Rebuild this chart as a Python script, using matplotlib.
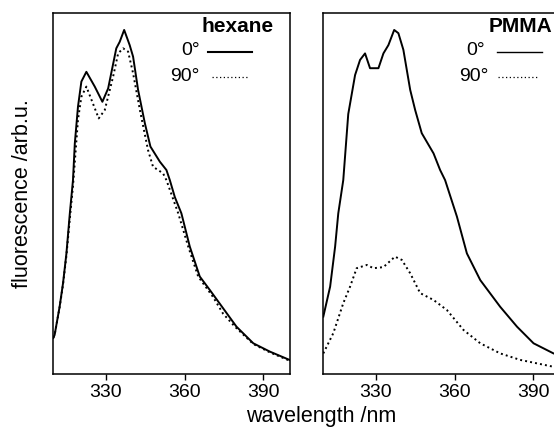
import numpy as np
from matplotlib import pyplot as plt

plt.rcParams['font.family'] = ['Liberation Sans', 'DejaVu Sans']

# hexane, 0 deg (solid)
hex_wl_0 = [310.0, 310.5, 312.4, 313.7, 315.0, 316.3, 317.5, 318.2, 319.4, 320.7,
            322.6, 325.8, 328.7, 330.9, 334.0, 335.3, 337.0, 339.1, 340.4, 342.3,
            344.9, 347.0, 350.6, 353.1, 354.4, 356.3, 358.8, 362.0, 365.8, 369.6,
            374.7, 379.8, 386.2, 392.5, 400.0]
hex_fl_0 = [0.100, 0.108, 0.186, 0.251, 0.334, 0.445, 0.537, 0.639, 0.740, 0.810,
            0.837, 0.796, 0.754, 0.791, 0.902, 0.920, 0.953, 0.911, 0.879, 0.787,
            0.694, 0.630, 0.588, 0.565, 0.537, 0.490, 0.445, 0.353, 0.270, 0.233,
            0.182, 0.131, 0.085, 0.062, 0.039]

# hexane, 90 deg (dotted)
hex_wl_90 = [310.0, 310.5, 312.4, 313.7, 315.0, 316.3, 317.5, 319.4, 320.7, 322.6,
             327.3, 329.6, 332.8, 334.7, 336.6, 338.5, 340.4, 343.0, 346.1, 348.0,
             351.8, 353.1, 357.6, 361.4, 365.2, 370.9, 374.7, 379.2, 386.2, 392.5,
             400.0]
hex_fl_90 = [0.100, 0.108, 0.184, 0.247, 0.328, 0.430, 0.520, 0.704, 0.768, 0.796,
             0.708, 0.731, 0.824, 0.888, 0.902, 0.893, 0.833, 0.731, 0.620, 0.574,
             0.556, 0.537, 0.445, 0.353, 0.270, 0.213, 0.167, 0.131, 0.083, 0.060,
             0.037]

# PMMA, 0 deg (solid)
pm_wl_0 = [310.0, 312.6, 314.5, 315.7, 317.6, 319.5, 322.1, 324.0, 325.9,
           327.8, 331.0, 332.9, 334.8, 337.0, 338.6, 340.5, 343.1, 345.0, 347.5,
           352.0, 354.5, 356.4, 360.9, 364.7, 369.8, 377.4, 383.8, 390.1, 397.7,
           400.0]
pm_fl_0 = [0.159, 0.242, 0.353, 0.445, 0.537, 0.720, 0.828, 0.870, 0.888,
           0.847, 0.847, 0.888, 0.911, 0.953, 0.944, 0.898, 0.787, 0.731, 0.667,
           0.611, 0.565, 0.537, 0.436, 0.334, 0.260, 0.186, 0.131, 0.085, 0.057,
           0.052]

# PMMA, 90 deg (dotted)
pm_wl_90 = [310.0, 313.8, 317.6, 320.2, 322.7, 326.6, 329.1, 332.9, 337.3, 339.9,
            343.1, 346.9, 352.0, 357.1, 363.4, 369.8, 377.4, 385.0, 397.7, 400.0]
pm_fl_90 = [0.057, 0.113, 0.196, 0.242, 0.293, 0.302, 0.293, 0.296, 0.325, 0.316,
            0.279, 0.224, 0.205, 0.177, 0.122, 0.085, 0.057, 0.039, 0.020, 0.018]

xticks = [330, 360, 390]
dotted = (0, (1, 1.6))

fig = plt.figure(figsize=(5.54, 4.28), dpi=100)
ax1 = fig.add_axes([0.0962, 0.1262, 0.4264, 0.8435])
ax2 = fig.add_axes([0.5836, 0.1262, 0.4264, 0.8435])

panels = [
    (ax1, hex_wl_0, hex_fl_0, hex_wl_90, hex_fl_90, 'hexane',
     (0.654, 0.843), (0.671, 0.826), 0.621, 0.621, 0.934, 1.5),
    (ax2, pm_wl_0, pm_fl_0, pm_wl_90, pm_fl_90, 'PMMA',
     (0.734, 0.925), (0.740, 0.909), 0.685, 0.699, 0.971, 1.0),
]

for ax, w0, f0, w90, f90, name, sl, dl, t0x, t90x, nx, leg_lw in panels:
    ax.plot(w0, f0, color='black', lw=1.4, solid_joinstyle='round')
    ax.plot(w90, f90, color='black', lw=1.4, linestyle=dotted)
    ax.set_xlim(310, 400)
    ax.set_ylim(0, 1)
    ax.set_xticks(xticks)
    ax.set_yticks([])
    ax.tick_params(axis='x', direction='out', length=4.5, width=1,
                   labelsize=14, pad=3)
    for s in ax.spines.values():
        s.set_linewidth(1.1)

    # in-plot legend
    ax.text(nx, 0.963, name, transform=ax.transAxes, ha='right', va='center',
            fontsize=15, fontweight='bold')
    ax.text(t0x, 0.895, '0°', transform=ax.transAxes, ha='right', va='center',
            fontsize=14)
    ax.text(t90x, 0.825, '90°', transform=ax.transAxes, ha='right', va='center',
            fontsize=14)
    ax.plot(sl, [0.893, 0.893], transform=ax.transAxes, color='black',
            lw=leg_lw, clip_on=False)
    ax.plot(dl, [0.823, 0.823], transform=ax.transAxes, color='black',
            lw=0.9, linestyle=(0, (1, 2)), clip_on=False)

fig.text(0.040, 0.548, 'fluorescence /arb.u.', rotation=90, ha='center',
         va='center', fontsize=15.5)
fig.text(0.579, 0.028, 'wavelength /nm', ha='center', va='center', fontsize=15.5)

fig.savefig('out.png', dpi=100)
